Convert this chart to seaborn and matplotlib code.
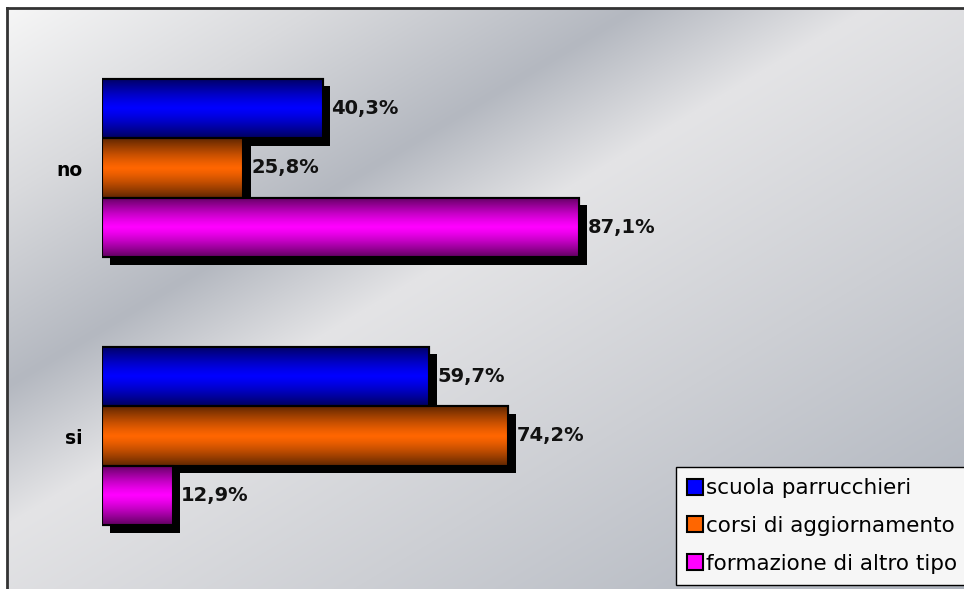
import numpy as np
import pandas as pd
import seaborn as sns
import matplotlib.pyplot as plt
import matplotlib.patheffects as pe
from matplotlib.colors import to_rgb
from matplotlib.patches import Rectangle

# data
risposte = ["no", "si"]
tipi = ["scuola parrucchieri", "corsi di aggiornamento", "formazione di altro tipo"]
scuola = [40.3, 59.7]
corsi = [25.8, 74.2]
altro = [87.1, 12.9]
colori = ["#0000ff", "#ff6600", "#ff00ff"]

df = pd.DataFrame({
    "risposta": risposte * 3,
    "tipo": [t for t in tipi for _ in risposte],
    "valore": scuola + corsi + altro,
})

W, H = 964, 589
fig = plt.figure(figsize=(W / 100, H / 100), dpi=100)
fig.patch.set_facecolor("white")

# brushed metal background of the chart area
bg = fig.add_axes([7 / W, 0, 1 - 7 / W, 1 - 8 / H])
yy, xx = np.mgrid[8:H, 7:W]
t = yy + 0.6 * xx
stops = [0, 200, 390, 530, 800, 1170]
stop_cols = np.array([to_rgb(c) for c in
                      ["#f8f8f8", "#d9dadd", "#b4b8c0", "#e4e4e6", "#cdcfd4", "#aab0ba"]])
img = np.dstack([np.interp(t, stops, stop_cols[:, k]) for k in range(3)])
bg.imshow(img, extent=(0, 1, 0, 1), aspect="auto", origin="upper")
bg.set_xlim(0, 1)
bg.set_ylim(0, 1)
bg.set_xticks([])
bg.set_yticks([])
for side in ["bottom", "right"]:
    bg.spines[side].set_visible(False)
for side in ["top", "left"]:
    bg.spines[side].set_color("#333333")
    bg.spines[side].set_linewidth(2)

# bars
ax = fig.add_axes([102 / W, 0, (W - 102) / W, (H - 8) / H])
ax.patch.set_alpha(0)
sns.barplot(data=df, x="valore", y="risposta", hue="tipo", hue_order=tipi,
            order=risposte, palette=colori, orient="h", width=0.666,
            edgecolor="black", linewidth=1.5, saturation=1, ax=ax)

xlim = (0, (W - 102) / 5.477)
ylim = ((H - 168) / 268, (8 - 168) / 268)

for cont, col in zip(ax.containers, colori):
    base = np.array(to_rgb(col))
    s = np.linspace(0, 1, 64)
    f = 1 - 0.62 * np.abs(2 * s - 1) ** 1.3
    grad = (base[None, :] * f[:, None])[:, None, :]
    for p in cont.patches:
        p.set_path_effects([pe.SimplePatchShadow(offset=(5.5, -5.5),
                                                 shadow_rgbFace="black", alpha=1),
                            pe.Normal()])
        x0, y0, w, h = p.get_x(), p.get_y(), p.get_width(), p.get_height()
        im = ax.imshow(grad, extent=(x0, x0 + w, y0 + h, y0), aspect="auto",
                       zorder=p.get_zorder() + 0.1, interpolation="bilinear")
        im.set_clip_path(p)
        ax.add_patch(Rectangle((x0, y0), w, h, fill=False, edgecolor="black",
                               linewidth=1.5, zorder=p.get_zorder() + 0.2))
    ax.bar_label(cont, labels=[f"{v:.1f}%".replace(".", ",") for v in cont.datavalues],
                 padding=6, fontsize=14, fontweight="bold", color="#111111")

ax.set_xlim(*xlim)
ax.set_ylim(*ylim)
ax.set_xticks([])
ax.set_xlabel("")
ax.set_ylabel("")
ax.tick_params(axis="y", length=0, pad=14, labelsize=13.5)
for lbl in ax.get_yticklabels():
    lbl.set_fontweight("bold")
for sp in ax.spines.values():
    sp.set_visible(False)

handles, labels = ax.get_legend_handles_labels()
leg = ax.legend(handles, labels, loc="upper left",
                bbox_to_anchor=(676 / W, 1 - 467 / H), bbox_transform=fig.transFigure,
                frameon=True, fancybox=False, edgecolor="black", facecolor="#f6f6f6",
                framealpha=1, fontsize=15.5, labelspacing=0.82, handlelength=0.75,
                handleheight=0.75, handletextpad=0.12, borderpad=0.52, borderaxespad=0)
for hd in leg.legend_handles:
    hd.set_edgecolor("black")
    hd.set_linewidth(1.5)

fig.savefig("out.png", dpi=100)
